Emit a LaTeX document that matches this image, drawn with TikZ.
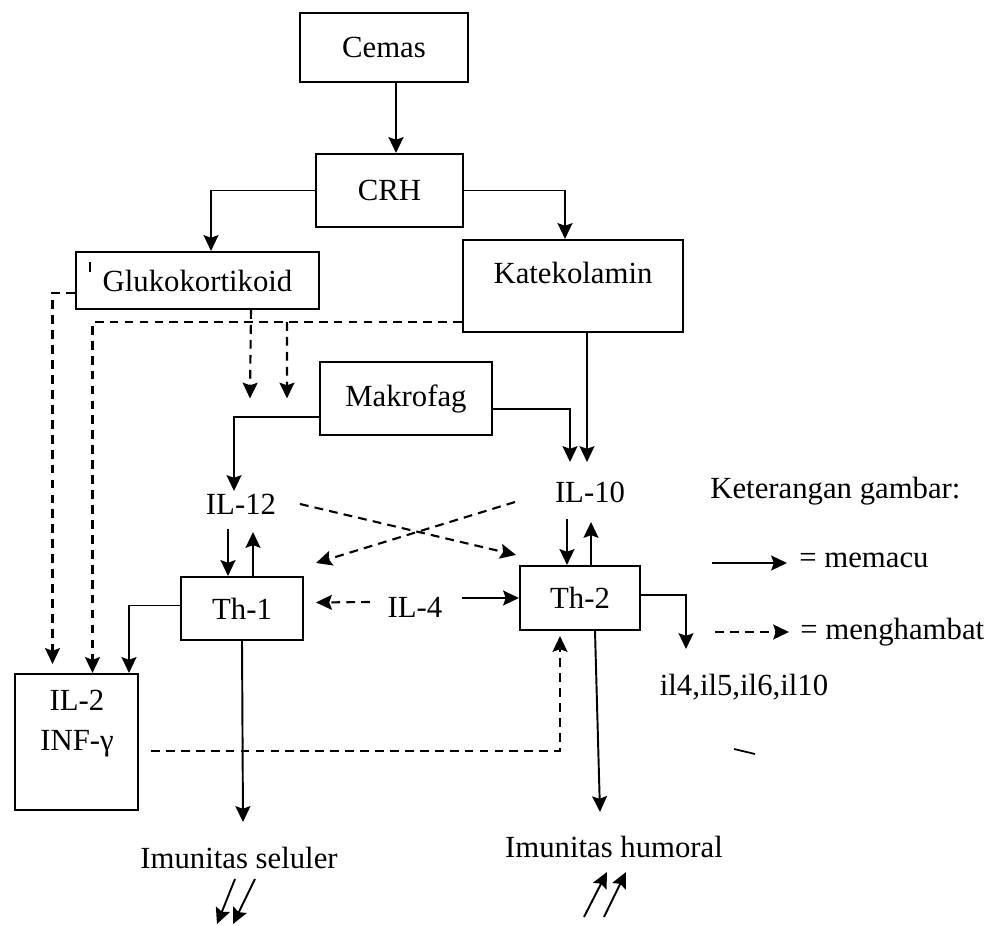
\documentclass[tikz,border=0pt]{standalone}
\usepackage{fontspec}
\setmainfont{Liberation Serif}
\usetikzlibrary{arrows.meta,calc}

\begin{document}
\begin{tikzpicture}[x=0.02cm,y=-0.02cm,
    font=\fontsize{17.5}{20}\selectfont,
    kotak/.style={draw,line width=1.2pt,inner sep=0pt},
    teks/.style={inner sep=0pt},
    pacu/.style={line width=1.1pt,-{Stealth[length=9pt,width=8.5pt,inset=1.5pt]}},
    hambat/.style={pacu,line width=1.2pt,dash pattern=on 5pt off 3.5pt}]
        \useasboundingbox (0,0) rectangle (1005,926);
        % kotak
        \node[kotak,minimum width=3.36cm,minimum height=1.38cm] (cemas) at (384,47.5) {Cemas};
        \node[kotak,minimum width=2.94cm,minimum height=1.46cm] (crh) at (389.5,190.5) {CRH};
        \node[kotak,minimum width=4.86cm,minimum height=1.14cm] (gluko) at (197.5,280.5) {Glukokortikoid};
        \node[kotak,minimum width=4.4cm,minimum height=1.84cm] (kat) at (573,286) {};
        \node[teks] (katT) at (573,273) {Katekolamin};
        \node[kotak,minimum width=3.44cm,minimum height=1.46cm] (mak) at (406,398.5) {Makrofag};
        \node[kotak,minimum width=2.44cm,minimum height=1.26cm] (th1) at (242,608.5) {Th-1};
        \node[kotak,minimum width=2.4cm,minimum height=1.28cm] (th2) at (580,598) {Th-2};
        \node[kotak,minimum width=2.46cm,minimum height=2.72cm] (il2) at (76.5,742) {};
        \node[teks,align=center,font=\fontsize{17.5}{22.7}\selectfont] (il2T) at (77,724) {IL-2\\INF-γ};
        % teks
        \node[teks] (il12) at (241,504) {IL-12};
        \node[teks] (il10) at (590,492) {IL-10};
        \node[teks] (il4) at (415,607) {IL-4};
        \node[teks] (ilx) at (744,687) {il4,il5,il6,il10};
        \node[teks] (sel) at (239,858) {Imunitas seluler};
        \node[teks] (hum) at (614,847) {Imunitas humoral};
        % keterangan
        \node[teks,anchor=west] (ket) at (710,491) {Keterangan gambar:};
        \node[teks,anchor=west] (lpacu) at (799,560) {= memacu};
        \node[teks,anchor=west] (lhambat) at (800,632) {= menghambat};
        \draw[pacu] ($(lpacu.west)+(-87,3)$) -- ($(lpacu.west)+(-12,3)$);
        \draw[hambat] ($(lhambat.west)+(-85,0)$) -- ($(lhambat.west)+(-11,0)$);
        % memacu
        \draw[pacu] ($(cemas.south)+(12,0)$) -- ($(crh.north)+(6.5,0)$);
        \draw[pacu] (crh.west) -| ($(gluko.north)+(13.5,0)$);
        \draw[pacu] (crh.east) -| ($(kat.north)+(-8,0)$);
        \draw[pacu] ($(mak.west)+(0,18.5)$) -| ($(il12)+(-7,-13)$);
        \draw[pacu] ($(mak.east)+(0,10.5)$) -| ($(il10)+(-20,-30)$);
        \draw[pacu] ($(kat.south)+(14,0)$) -- ($(il10)+(-3,-30)$);
        \draw[pacu] ($(il12)+(-13,25)$) -- ($(th1.north)+(-14,0)$);
        \draw[pacu] ($(th1.north)+(11,0)$) -- ($(il12)+(12,28)$);
        \draw[pacu] ($(il10)+(-23,27)$) -- ($(th2.north)+(-13,0)$);
        \draw[pacu] ($(th2.north)+(11,0)$) -- ($(il10)+(1,30)$);
        \draw[pacu] ($(il4)+(47,-9)$) -- (th2.west);
        \draw[pacu] ($(th1.west)+(0,-3)$) -| ($(il2.north)+(52.5,0)$);
        \draw[pacu] ($(th2.east)+(0,-3)$) -| ($(ilx)+(-58,-38)$);
        \draw[pacu] (th1.south) -- ($(sel)+(4,-36)$);
        \draw[pacu] ($(th2.south)+(15,0)$) -- ($(hum)+(-14,-35)$);
        % menghambat
        \draw[hambat] ($(gluko.west)+(0,12.5)$) -| ($(il2.north)+(-24,-9)$);
        \draw[hambat] ($(kat.west)+(0,36)$) -| ($(il2.north)+(16,0)$);
        \draw[hambat] ($(gluko.south)+(53.5,0)$) -- ($(mak.west)+(-69,0)$);
        \draw[hambat] ($(kat.west)+(-175,36)$) -- ($(mak.west)+(-32,0)$);
        \draw[hambat] ($(il12)+(59,0)$) -- ($(th2.north west)+(-3,-10)$);
        \draw[hambat] ($(il10)+(-75,10)$) -- ($(th1.north east)+(12,-13)$);
        \draw[hambat] ($(il4)+(-45,-5)$) -- ($(th1.east)+(12,-6)$);
        \draw[hambat] ($(il2.east)+(12,9)$) -| ($(th2.south)+(-20,5)$);
        % naik turun
        \draw[pacu] ($(sel)+(-4,21)$) -- ($(sel)+(-22,66)$);
        \draw[pacu] ($(sel)+(16,21)$) -- ($(sel)+(-6,66)$);
        \draw[pacu] ($(hum)+(-30,70)$) -- ($(hum)+(-7,25)$);
        \draw[pacu] ($(hum)+(-10,70)$) -- ($(hum)+(12,25)$);
        % coretan
        \draw[line width=1pt] (734,749) -- (755,754);
        \draw[line width=0.6pt] (90,262) -- (90,272);
    \end{tikzpicture}
\end{document}
